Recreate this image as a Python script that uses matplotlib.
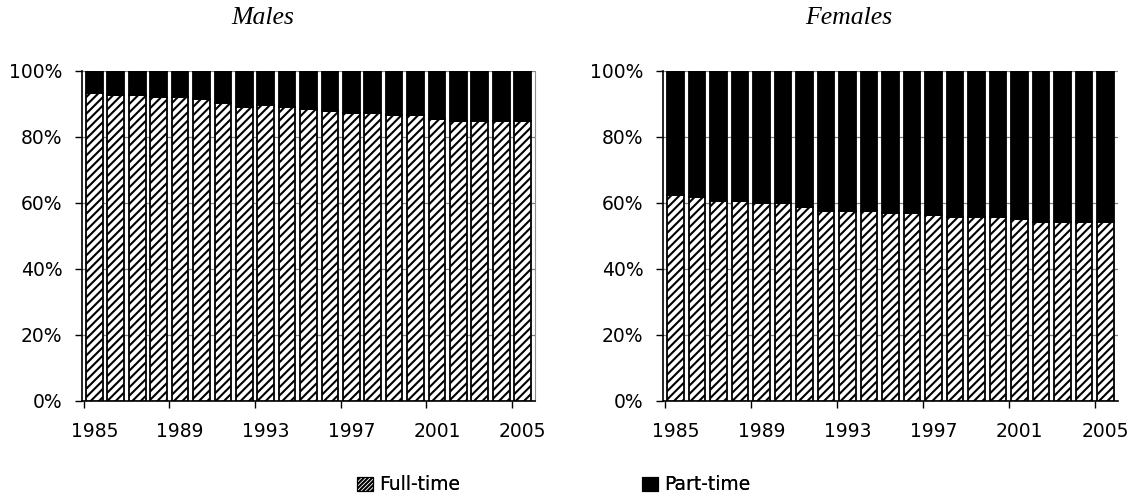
import matplotlib
matplotlib.use("Agg")
import matplotlib.pyplot as plt
from matplotlib.patches import Patch
import numpy as np

years = list(range(1985, 2006))
males_full = [93.4, 92.8, 92.8, 92.2, 92.2, 91.6, 90.4, 89.2, 89.8, 89.2, 88.6,
              88.0, 87.4, 87.4, 86.7, 86.7, 85.5, 84.9, 84.9, 84.9, 84.9]
females_full = [62.5, 61.9, 60.7, 60.7, 60.1, 60.1, 58.9, 57.7, 57.7, 57.7, 57.1,
                57.1, 56.5, 55.9, 55.9, 55.9, 55.3, 54.1, 54.1, 54.1, 54.1]
males_part = [100 - v for v in males_full]
females_part = [100 - v for v in females_full]
year_labels = ["1985", "1989", "1993", "1997", "2001", "2005"]
y_ticks = [0, 20, 40, 60, 80, 100]

plt.rcParams["font.family"] = ["DejaVu Sans"]
plt.rcParams["hatch.linewidth"] = 1.5
plt.rcParams["hatch.color"] = "black"

fig = plt.figure(figsize=(11.43, 4.97), dpi=100)
W, H = 1143, 497
TICK_FS = 13.5


def make_axes(x0, x1, y_top, y_bot):
    return fig.add_axes([x0 / W, 1 - y_bot / H, (x1 - x0) / W, (y_bot - y_top) / H])


ax_m = make_axes(82, 535, 71, 401)
ax_f = make_axes(663, 1118, 71, 401)


def draw_panel(ax, full, part, right_border):
    x = np.arange(len(years))
    ax.bar(x, full, width=0.78, color="white", edgecolor="black", linewidth=1.3,
           hatch="////", zorder=3)
    ax.bar(x, part, width=0.78, bottom=full, color="black", edgecolor="black",
           linewidth=1.3, zorder=3)
    ax.set_xlim(-0.58, len(years) - 0.42)
    ax.set_ylim(0, 100)
    ax.set_yticks(y_ticks)
    ax.set_yticklabels([f"{t}%" for t in y_ticks])
    ax.yaxis.grid(True, color="#808080", linewidth=0.9, zorder=0)
    ax.set_axisbelow(True)
    # category boundaries carry the tick marks, year labels sit under bars
    label_idx = [years.index(int(s)) for s in year_labels]
    ax.set_xticks([i - 0.5 for i in label_idx])
    ax.set_xticklabels([])
    ax.set_xticks(label_idx, minor=True)
    ax.set_xticklabels(year_labels, minor=True)
    ax.tick_params(axis="x", which="major", direction="out", length=5, width=1,
                   color="black")
    ax.tick_params(axis="x", which="minor", length=0, pad=15, labelsize=TICK_FS)
    ax.tick_params(axis="y", direction="out", length=5, width=1, pad=9,
                   labelsize=TICK_FS)
    ax.spines["top"].set_visible(False)
    ax.spines["right"].set_visible(right_border)
    ax.spines["right"].set_color("#909090")
    ax.spines["left"].set_color("black")
    ax.spines["bottom"].set_color("black")
    ax.spines["left"].set_linewidth(1.2)
    ax.spines["bottom"].set_linewidth(1.2)


draw_panel(ax_m, males_full, males_part, True)
draw_panel(ax_f, females_full, females_part, False)

serif = ["Liberation Serif", "DejaVu Serif"]
fig.text(263 / W, 1 - 18 / H, "Males", family=serif, style="italic",
         fontsize=18.5, ha="center", va="center")
fig.text(849 / W, 1 - 18 / H, "Females", family=serif, style="italic",
         fontsize=18.5, ha="center", va="center")

legend_items = [
    (Patch(facecolor="white", edgecolor="black", hatch="////////", linewidth=0.8,
           label="Full-time"), 357),
    (Patch(facecolor="black", edgecolor="black", linewidth=0.8,
           label="Part-time"), 642),
]
for handle, xpos in legend_items:
    leg = fig.legend(handles=[handle], loc="center left",
                     bbox_to_anchor=(xpos / W, 1 - 485 / H), frameon=False,
                     fontsize=TICK_FS, handlelength=0.85, handleheight=0.85,
                     handletextpad=0.35, borderaxespad=0, borderpad=0)
    fig.add_artist(leg)

fig.savefig("out.png", dpi=100)
